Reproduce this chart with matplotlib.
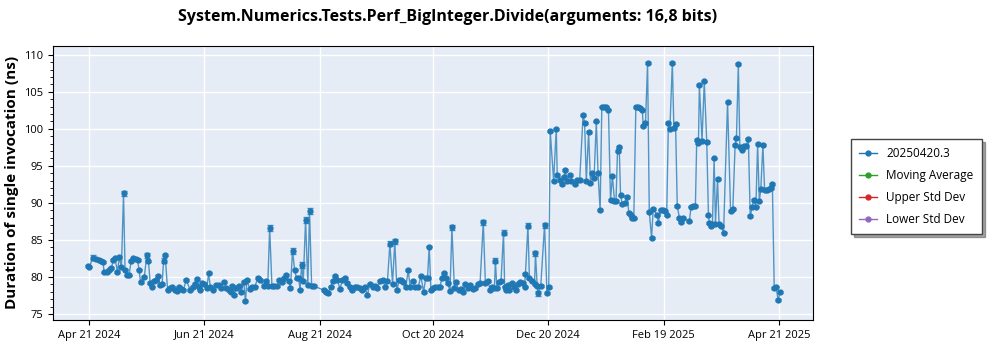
import numpy as np
import pandas as pd
import matplotlib
matplotlib.use("Agg")
import matplotlib.pyplot as plt
import matplotlib.dates as mdates

plt.rcParams['font.family'] = ['Open Sans', 'DejaVu Sans']

# days after 2024-04-21 and measured duration (ns)
start = pd.Timestamp('2024-04-21')
days = [
    -0.5, 0.3, 2.1, 4.0, 5.3, 6.4, 7.4, 8.1, 9.5, 10.6, 11.9, 12.9, 13.8, 15.1, 16.1, 17.2,
    18.3, 19.1, 20.2, 21.2, 22.3, 23.3, 24.7, 25.7, 26.5, 27.3, 29.3, 30.6, 31.5, 32.4, 33.4,
    34.5, 35.5, 36.6, 37.7, 38.7, 39.5, 40.3, 41.6, 42.7, 43.9, 45.3, 46.5, 47.7, 48.8, 50.0,
    51.5, 53.6, 54.8, 55.9, 57.1, 58.0,
    58.9, 59.9, 61.0, 62.4, 63.3, 64.2, 65.6, 67.1, 68.6, 69.9, 71.4, 72.7, 73.9, 75.1, 75.9,
    76.7, 78.0, 79.2, 80.5, 81.9, 82.8, 83.6, 85.0, 86.5, 87.8, 89.4, 90.6, 92.5, 93.5, 94.6,
    95.6, 96.8, 98.1, 99.5, 100.8, 102.1, 103.4, 104.5, 105.7, 106.6, 107.7, 108.8, 109.8,
    110.9, 111.7, 112.5, 113.4, 114.6, 115.8, 116.7, 117.8, 118.8,
    124.3, 125.6, 126.5, 127.9, 129.2, 130.2, 131.4, 132.8, 134.1, 135.3, 136.3, 137.9, 139.4,
    140.6, 142.0, 143.4, 144.7, 145.9, 147.3, 148.5, 150.0, 151.2, 152.6, 154.0, 155.3, 156.7,
    157.9, 159.2, 160.6, 161.8, 162.9, 164.1, 165.1, 166.3, 167.6, 168.9, 169.9, 171.2, 172.4,
    174.2, 175.6, 177.0, 178.2, 179.1, 180.0, 180.9,
    181.8, 183.0, 184.5, 185.7, 186.7, 188.0, 188.9, 189.8, 191.0, 192.0, 193.3, 194.2, 195.6,
    196.8, 198.0, 199.1, 200.4, 201.6, 203.0, 204.4, 205.7, 206.9, 208.6, 209.7, 211.0, 212.2,
    213.3, 214.5, 215.0, 215.8, 217.1, 218.0, 219.3, 219.9, 220.7, 221.6, 222.4, 223.9, 225.1,
    226.0, 226.9, 228.1, 229.5, 230.4, 230.9, 232.2, 233.0, 234.3, 235.7, 236.2, 237.1, 237.7,
    239.0, 241.0, 242.3, 243.2,
    244.0, 245.8, 247.2, 247.7, 249.0, 250.2, 251.2, 252.0, 252.9, 254.3, 255.2, 256.9, 258.4,
    259.6, 261.4, 262.2, 263.1, 264.3, 265.3, 265.9, 267.2, 268.4, 269.3, 270.4, 271.3, 272.4,
    273.5, 274.8, 275.9, 276.9, 278.0, 278.8, 279.6, 280.5, 281.2, 282.2, 283.5, 284.7, 285.6,
    286.5, 287.4, 288.2, 289.3, 290.4, 291.6, 292.7, 293.2, 294.4, 295.5, 296.4, 297.6, 298.5,
    300.6, 301.2, 302.4, 303.7, 304.7, 305.6, 306.5, 307.3, 308.6, 309.4, 310.3, 311.2, 312.3,
    313.4, 314.4, 317.6, 318.5, 319.7, 320.8, 321.5, 322.4, 322.9, 324.3, 325.5, 326.8, 327.7,
    328.2, 328.9, 329.8, 330.7, 331.4, 332.5, 333.3, 334.2, 335.7, 337.8, 339.4, 340.6, 341.8,
    342.5, 343.5, 344.3, 345.5, 346.6, 347.6, 348.8, 349.8, 350.8, 351.6, 352.8, 353.7, 354.6,
    355.4, 356.5, 357.4, 358.5, 359.5, 360.6, 361.5, 362.5, 363.5, 364.5, 365.7,
]
duration_ns = [
    81.5, 81.4, 82.6, 82.4, 82.3, 82.2, 82.0, 80.6, 80.7, 80.9, 81.2, 82.3, 82.5, 80.7, 82.7, 81.3,
    91.3, 81.0, 80.2, 80.2, 82.1, 82.5, 82.4, 82.3, 81.0, 79.3, 80.0, 82.9, 82.1, 79.2, 78.7,
    79.5, 79.6, 80.1, 78.9, 79.0, 82.2, 83.0, 78.3, 78.5, 78.7, 78.2, 78.1, 78.7, 78.4, 78.3,
    79.6, 78.2, 78.6, 79.0, 79.7, 78.7,
    78.3, 79.2, 79.1, 78.5, 80.5, 78.7, 78.3, 78.9, 78.9, 78.5, 79.3, 78.5, 78.3, 77.9, 78.8,
    77.6, 78.5, 78.8, 78.0, 79.3, 76.7, 79.6, 78.4, 78.7, 78.7, 79.9, 79.6, 78.8, 79.5, 78.8,
    86.6, 78.8, 78.8, 78.8, 79.6, 79.3, 79.9, 80.3, 79.5, 78.5, 83.5, 81.0, 79.8,
    79.8, 78.3, 81.6, 79.5, 87.7, 78.9, 88.9, 78.8, 78.8,
    78.2, 77.9, 77.8, 78.7, 79.4, 80.1, 79.6, 78.4, 79.6, 79.9, 79.2, 78.7, 78.2,
    78.7, 78.7, 78.5, 78.2, 78.7, 77.5, 79.1, 78.7, 78.8, 78.5, 79.4, 79.6, 78.7,
    79.4, 84.5, 79.1, 84.8, 78.2, 79.6, 79.6, 79.3, 78.6, 80.9, 78.7, 79.5, 78.6,
    78.7, 80.1, 78.0, 79.9, 79.9, 84.1, 78.2,
    78.5, 78.7, 78.7, 78.7, 79.8, 80.5, 79.8, 79.2, 78.1, 86.7, 78.5, 79.3, 78.2,
    78.4, 78.0, 79.0, 78.5, 78.9, 78.4, 78.5, 79.0, 79.2, 87.4, 79.2, 79.5, 78.2,
    78.7, 78.5, 82.2, 78.5, 79.3, 79.5, 86.0, 78.7, 78.3, 78.9, 78.2, 79.2, 78.7,
    78.2, 79.0, 79.3, 79.2, 78.7, 80.4, 86.9, 79.8, 79.5, 79.0, 83.2, 78.8, 77.8,
    78.8, 87.0, 77.8, 78.6,
    99.7, 93.0, 100.0, 93.8, 93.1, 92.6, 93.5, 94.4, 93.0, 93.8, 93.0, 92.5, 93.1,
    93.1, 101.9, 100.8, 92.9, 99.6, 92.7, 94.0, 93.4, 101.0, 94.0, 89.0, 103.0, 103.0,
    103.0, 102.6, 90.4, 93.6, 90.3, 90.3, 97.0, 97.5, 91.0, 89.8, 90.0, 90.8, 88.6,
    88.3, 88.0, 87.9, 102.9, 102.9, 102.8, 102.6, 100.4, 100.8, 108.9, 88.8, 85.3, 89.2,
    88.3, 87.3, 89.1, 89.1, 88.9, 88.3, 100.8, 100.0, 108.9, 100.1, 100.7, 89.6, 88.0,
    87.4, 88.0, 87.5, 89.5, 89.6, 89.6, 98.5, 98.1, 105.9, 98.4, 106.4, 98.2, 88.3,
    87.3, 86.9, 87.2, 96.0, 87.2, 93.2, 87.1, 86.9, 86.0, 103.6, 88.9, 89.2, 97.8,
    98.7, 108.7, 97.6, 97.2, 97.7, 97.7, 98.6, 88.2, 89.4, 90.4, 89.5, 98.0, 90.2,
    91.9, 97.8, 91.7, 91.8, 91.9, 92.0, 92.6, 78.5, 78.7, 76.9, 78.0,
]
# points whose error bars stand out of the marker
wide_err_days = [2.1, 18.3, 30.6, 39.5, 95.6, 107.7, 112.5, 114.6, 116.7, 159.2, 161.8,
                 192.0, 208.6, 215.0, 219.3, 232.2, 236.2, 237.7, 241.0]

tick_dates = ['2024-04-21', '2024-06-21', '2024-08-21', '2024-10-20',
              '2024-12-20', '2025-02-19', '2025-04-21']

dates = start + pd.to_timedelta(days, unit='D')
vals = np.array(duration_ns)
errs = np.where(np.isin(days, wide_err_days), 0.35, 0.12)

fig = plt.figure(figsize=(10, 3.5), dpi=100)
ax = fig.add_axes([0.053, 0.086, 0.760, 0.783])
ax.set_facecolor('#e5ecf6')

blue = '#1f77b4'
ax.plot(dates, vals, color=blue, lw=1.0, alpha=0.75, zorder=2)
ax.errorbar(dates, vals, yerr=errs, fmt='none', ecolor=blue, elinewidth=1,
            capsize=2.5, alpha=0.8, zorder=3)
ax.plot(dates, vals, ls='none', marker='o', ms=3.5, color=blue, zorder=4)

# legend handles
ax.plot([], [], color=blue, marker='o', ms=3.5, lw=1, label='20250420.3')
ax.plot([], [], color='#2ca02c', marker='o', ms=3.5, lw=1, label='Moving Average')
ax.plot([], [], color='#d62728', marker='o', ms=3.5, lw=1, label='Upper Std Dev')
ax.plot([], [], color='#9467bd', marker='o', ms=3.5, lw=1, label='Lower Std Dev')

ax.set_ylim(74.2, 111.2)
ax.set_yticks(np.arange(75, 111, 5))
ax.set_yticks(np.arange(75, 111, 1), minor=True)
ax.set_xlim(pd.Timestamp('2024-04-02'), pd.Timestamp('2025-05-09'))
ax.set_xticks(pd.to_datetime(tick_dates))
ax.xaxis.set_major_formatter(mdates.DateFormatter('%b %d %Y'))
ax.xaxis.set_minor_locator(matplotlib.ticker.NullLocator())
ax.tick_params(axis='both', labelsize=8)
ax.grid(True, which='major', color='white', lw=1)
ax.set_axisbelow(True)
for s in ax.spines.values():
    s.set_color('black')

ax.set_ylabel('Duration of single invocation (ns)', fontsize=11, fontweight='bold')
fig.suptitle('System.Numerics.Tests.Perf_BigInteger.Divide(arguments: 16,8 bits)',
             fontsize=11.5, fontweight='bold', x=0.448, y=0.975)

leg = fig.legend(loc='upper left', bbox_to_anchor=(0.845, 0.62), fontsize=8.5,
                 frameon=True, fancybox=False, shadow=True, edgecolor='#444444',
                 borderpad=0.7, labelspacing=0.75, handlelength=1.5)
leg.get_frame().set_linewidth(1.0)

fig.savefig('out.png', dpi=100)
